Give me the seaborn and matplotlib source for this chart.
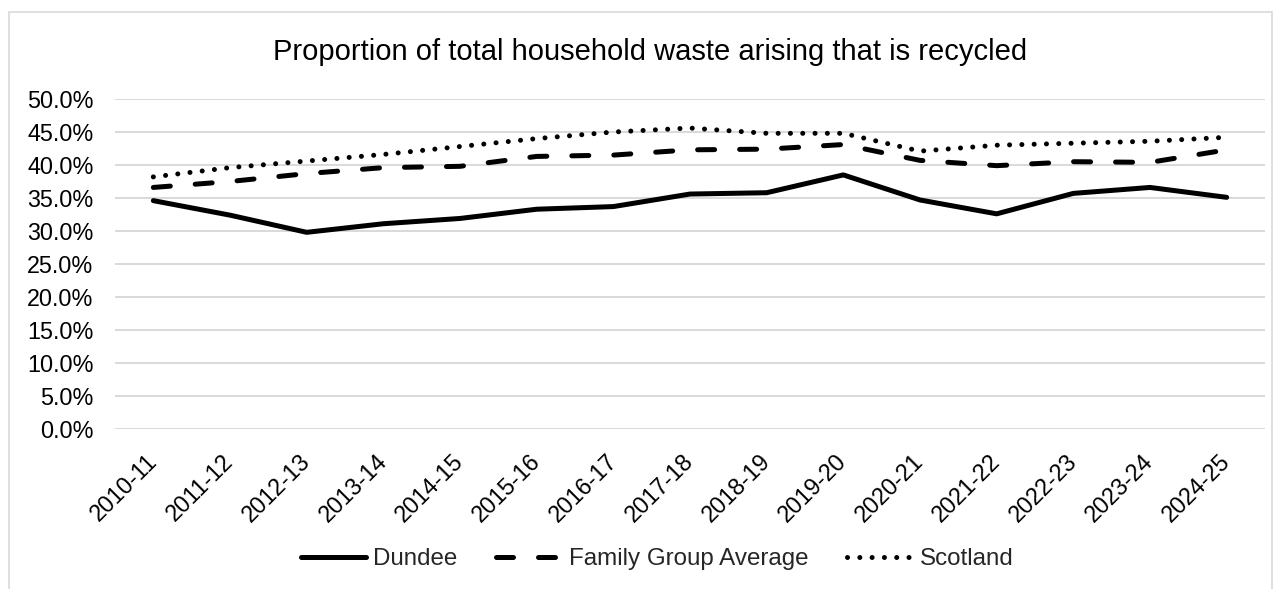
import numpy as np
import pandas as pd
import matplotlib
matplotlib.use("Agg")
import matplotlib.pyplot as plt
import seaborn as sns
from matplotlib.ticker import PercentFormatter, MultipleLocator
from matplotlib.patches import Rectangle

# data
years = ['2010-11', '2011-12', '2012-13', '2013-14', '2014-15', '2015-16', '2016-17', '2017-18',
         '2018-19', '2019-20', '2020-21', '2021-22', '2022-23', '2023-24', '2024-25']
dundee = [34.6, 32.4, 29.8, 31.1, 31.9, 33.3, 33.7, 35.6, 35.8, 38.5, 34.7, 32.6, 35.7, 36.6, 35.1]
family_avg = [36.6, 37.5, 38.7, 39.6, 39.8, 41.3, 41.5, 42.3, 42.4, 43.1, 40.7, 39.9, 40.5, 40.4, 42.3]
scotland = [38.2, 39.6, 40.6, 41.6, 42.8, 44.0, 45.0, 45.6, 44.8, 44.8, 42.1, 43.0, 43.3, 43.6, 44.2]

df = pd.DataFrame({
    'Year': years * 3,
    'Rate': np.array(dundee + family_avg + scotland) / 100,
    'Series': ['Dundee'] * 15 + ['Family Group Average'] * 15 + ['Scotland'] * 15,
})

sns.set_theme(style="white")
plt.rcParams['font.family'] = ['Liberation Sans', 'DejaVu Sans']

W, H = 1281, 589
fig = plt.figure(figsize=(W / 100, H / 100), dpi=100)
ax = fig.add_axes([115 / W, 1 - 429 / H, (1265 - 115) / W, (429 - 99) / H])

styles = {
    'Dundee': dict(linestyle='-', solid_capstyle='round'),
    'Family Group Average': dict(linestyle=(0, (3.4, 5.0)), dash_capstyle='round'),
    'Scotland': dict(linestyle=(0, (0.01, 2.45)), dash_capstyle='round'),
}
for name, st in styles.items():
    sub = df[df['Series'] == name]
    sns.lineplot(data=sub, x='Year', y='Rate', ax=ax, color='black', lw=3.6,
                 label=name, sort=False, **st)

ax.set_ylim(0, 0.5)
ax.set_xlim(-0.5, len(years) - 0.5)
ax.yaxis.set_major_locator(MultipleLocator(0.05))
ax.yaxis.set_major_formatter(PercentFormatter(1.0, decimals=1))
ax.grid(axis='y', color='#d9d9d9', lw=1.4)
ax.set_axisbelow(True)
for s in ax.spines.values():
    s.set_visible(False)
ax.set_xlabel('')
ax.set_ylabel('')
ax.tick_params(axis='both', length=0, labelsize=16.8, colors='black')
ax.tick_params(axis='y', pad=15.5)
ax.tick_params(axis='x', pad=21)
for lbl in ax.get_xticklabels():
    lbl.set_rotation(45)
    lbl.set_ha('right')
    lbl.set_va('center')
    lbl.set_rotation_mode('anchor')

fig.text(650 / W, 1 - 60 / H, 'Proportion of total household waste arising that is recycled',
         ha='center', va='baseline', fontsize=21, color='black')

ax.legend_.remove()
handles, labels = ax.get_legend_handles_labels()
fig.legend(handles, labels, loc='center', bbox_to_anchor=(657 / W, 1 - 559 / H), ncol=3,
           frameon=False, fontsize=17.4, handlelength=2.7, handletextpad=0.3, columnspacing=1.6)

fig.patches.append(Rectangle((9 / W, -0.1), (1272 - 9) / W, 1.1 - 12 / H,
                             transform=fig.transFigure, fill=False, edgecolor='#d9d9d9', lw=1.2))

fig.savefig('out.png', dpi=100, facecolor='white')
